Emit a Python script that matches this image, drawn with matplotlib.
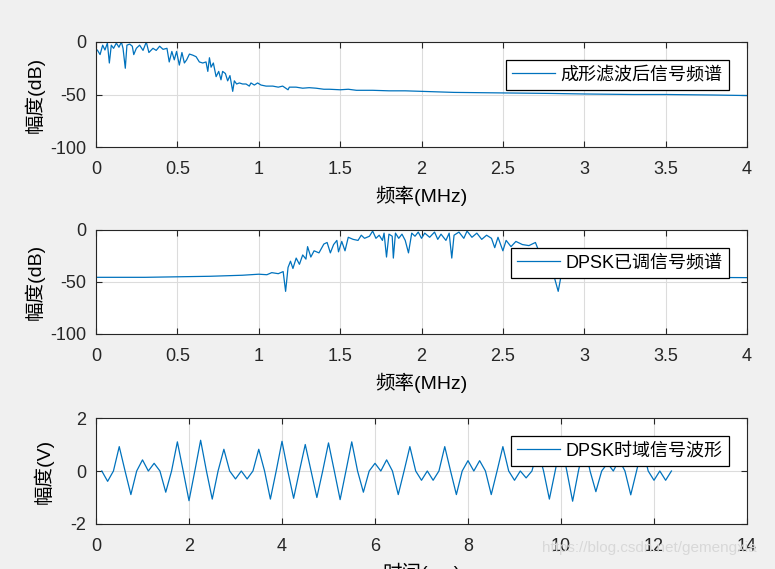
import numpy as np
import matplotlib
matplotlib.use("Agg")
import matplotlib.pyplot as plt

# 成形滤波后信号频谱 (MHz, dB)
freq_shaped = [0.000, 0.008, 0.025, 0.041, 0.055, 0.070, 0.082, 0.094, 0.108, 0.125,
               0.141, 0.156, 0.166, 0.180, 0.190, 0.207, 0.223, 0.232, 0.248, 0.268,
               0.289, 0.309, 0.325, 0.350, 0.370, 0.391, 0.412, 0.436, 0.450, 0.466,
               0.481, 0.495, 0.512, 0.528, 0.543, 0.557, 0.574, 0.594, 0.615, 0.635,
               0.656, 0.676, 0.687, 0.697, 0.707, 0.721, 0.738, 0.754, 0.768, 0.778,
               0.795, 0.809, 0.823, 0.840, 0.850, 0.864, 0.881, 0.901, 0.922, 0.942,
               0.952, 0.973, 0.993, 1.014, 1.045, 1.086, 1.120, 1.147, 1.180, 1.188,
               1.229, 1.270, 1.310, 1.352, 1.400, 1.434, 1.500, 1.550, 1.600, 1.700,
               1.800, 1.900, 2.000, 2.200, 2.500, 2.800, 3.000, 3.300, 3.500, 3.800, 4.000]
mag_shaped = [-8, -7.6, -12, -3, -7.6, -1, -20, -3, -6, -1,
              -5, 0, -6, -25, -3, -2, -4, -12, -6, -3,
              -8, 0, -10, -6, -8, -4, -7, -6, -19, -9,
              -17, -9, -22, -10, -20, -17, -11.5, -12.5, -14, -19,
              -20, -19, -28, -15, -24, -20, -33, -28, -36, -28,
              -30, -37, -32, -47, -37, -40, -39, -40, -40, -42,
              -39, -41, -39, -41, -42, -42, -43, -42, -45.5, -43,
              -43, -44, -43.5, -44, -45, -45, -45.5, -45, -46, -46,
              -46.5, -46.5, -47, -48, -48.5, -49, -49.5, -50, -50, -50.5, -51]

# DPSK已调信号频谱 (MHz, dB)
freq_dpsk = [0.0, 0.3, 0.5, 0.7, 0.9, 1.0, 1.05, 1.08, 1.12, 1.15,
             1.165, 1.18, 1.195, 1.21, 1.23, 1.25, 1.27, 1.29, 1.30, 1.32,
             1.34, 1.37, 1.40, 1.42, 1.44, 1.46, 1.48, 1.49, 1.51, 1.53,
             1.55, 1.58, 1.61, 1.63, 1.65, 1.68, 1.70, 1.72, 1.74, 1.76,
             1.77, 1.785, 1.80, 1.82, 1.827, 1.84, 1.86, 1.88, 1.90, 1.92,
             1.94, 1.96, 1.98, 2.00, 2.02, 2.05, 2.08, 2.10, 2.12, 2.15,
             2.17, 2.186, 2.20, 2.23, 2.26, 2.28, 2.31, 2.34, 2.37, 2.40,
             2.43, 2.45, 2.47, 2.50, 2.52, 2.55, 2.58, 2.62, 2.66, 2.70,
             2.72, 2.75, 2.78, 2.81, 2.84, 2.86, 2.90, 3.00, 3.30, 3.60, 4.00]
mag_dpsk = [-45.5, -45.5, -45, -44.5, -43.5, -42.5, -43, -41, -42, -40,
            -59, -36, -30, -37, -27, -33, -24, -28, -16, -26,
            -20, -22, -13.5, -12, -22, -14, -10, -21, -11, -20,
            -7, -9, -10, -5, -8, -6, -1, -8, -5, -10,
            -3, -26, -4, -6, -27, -3, -8, -4, -10, -22,
            -3, -6, -2, -8, -3, -7, -2, -9, -4, -10,
            -3, -27, -5, -2, -8, -1, -7, -3, -9, -5,
            -8, -17, -7, -20, -10, -16, -11, -14, -15, -12,
            -20, -30, -38, -42, -59, -42, -44, -44.5, -45, -45.5, -45.8]

# DPSK时域信号波形 (V), one sample every 0.125 ms
wave_dpsk = [0, -0.39, 0, 0.92, 0, -0.89, 0, 0.42, 0, 0.29,
             0, -0.8, 0, 1.1, 0, -1.12, 0, 1.16, 0, -1.06,
             0, 0.82, 0, -0.3, 0, -0.3, 0, 0.82, 0, -1.06,
             0, 1.12, 0, -1.03, 0, 1.0, 0, -1.0, 0, 1.06,
             0, -1.08, 0, 1.1, 0, -0.8, 0, 0.29, 0, 0.42,
             0, -0.89, 0, 0.92, 0, -0.35, 0, -0.35, 0, 0.92,
             0, -0.89, 0, 0.39, 0, 0.39, 0, -0.89, 0, 0.92,
             0, -0.35, 0, -0.26, 0, 0.82, 0, -1.06, 0, 1.1,
             0, -1.14, 0, 1.0, 0, -0.78, 0, 0.29, 0, 0.42,
             0, -0.9, 0, 0.92, 0, -0.35, 0, -0.35, 0]
t_step = 0.125
time_ms = (np.arange(len(wave_dpsk)) + 1) * t_step

line_color = "#0072BD"
fonts = ["Liberation Sans", "Noto Sans CJK SC", "DejaVu Sans"]
plt.rcParams["font.family"] = fonts
plt.rcParams["axes.unicode_minus"] = False

fig = plt.figure(figsize=(7.75, 5.69), dpi=100, facecolor="#f0f0f0")

boxes = [[96 / 775, 1 - 147 / 569, 651 / 775, 105 / 569],
         [96 / 775, 1 - 334 / 569, 651 / 775, 104 / 569],
         [96 / 775, 1 - 524 / 569, 651 / 775, 106 / 569]]


def style_axes(ax):
    ax.set_facecolor("white")
    ax.grid(True, color="#dcdcdc", linewidth=0.8)
    ax.set_axisbelow(True)
    for s in ax.spines.values():
        s.set_color("#262626")
        s.set_linewidth(0.8)
    ax.tick_params(direction="in", top=True, right=True, length=4, width=0.8,
                   labelsize=13, colors="#262626", pad=7)
    ax.tick_params(axis="x", pad=10)


def add_legend(ax, label):
    leg = ax.legend([label], loc="upper right", fontsize=13, frameon=True,
                    fancybox=False, framealpha=1, edgecolor="black",
                    borderpad=0.35, borderaxespad=1.0, handlelength=2.4,
                    handletextpad=0.3)
    leg.get_frame().set_linewidth(0.9)
    return leg


ax1 = fig.add_axes(boxes[0])
style_axes(ax1)
ax1.plot(freq_shaped, mag_shaped, color=line_color, linewidth=0.9)
ax1.set_xlim(0, 4)
ax1.set_ylim(-100, 0)
ax1.set_xticks(np.arange(0, 4.01, 0.5))
ax1.set_xticklabels(["0", "0.5", "1", "1.5", "2", "2.5", "3", "3.5", "4"])
ax1.set_yticks([-100, -50, 0])
ax1.set_xlabel("频率(MHz)", fontsize=14, labelpad=6)
ax1.set_ylabel("幅度(dB)", fontsize=14, labelpad=4)
add_legend(ax1, "成形滤波后信号频谱")

ax2 = fig.add_axes(boxes[1])
style_axes(ax2)
ax2.plot(freq_dpsk, mag_dpsk, color=line_color, linewidth=0.9)
ax2.set_xlim(0, 4)
ax2.set_ylim(-100, 0)
ax2.set_xticks(np.arange(0, 4.01, 0.5))
ax2.set_xticklabels(["0", "0.5", "1", "1.5", "2", "2.5", "3", "3.5", "4"])
ax2.set_yticks([-100, -50, 0])
ax2.set_xlabel("频率(MHz)", fontsize=14, labelpad=6)
ax2.set_ylabel("幅度(dB)", fontsize=14, labelpad=4)
add_legend(ax2, "DPSK已调信号频谱")

ax3 = fig.add_axes(boxes[2])
style_axes(ax3)
ax3.plot(time_ms, wave_dpsk, color=line_color, linewidth=0.9)
ax3.set_xlim(0, 14)
ax3.set_ylim(-2, 2)
ax3.set_xticks(np.arange(0, 15, 2))
ax3.set_yticks([-2, 0, 2])
ax3.set_xlabel("时间(ms)", fontsize=14, labelpad=6)
ax3.set_ylabel("幅度(V)", fontsize=14, labelpad=12)
add_legend(ax3, "DPSK时域信号波形")

fig.text(542 / 775, 1 - 548 / 569, "https://blog.csdn.net/gemengxia",
         fontsize=11, color="#d8d8d8", ha="left", va="center")

fig.savefig("out.png", dpi=100, facecolor=fig.get_facecolor())
